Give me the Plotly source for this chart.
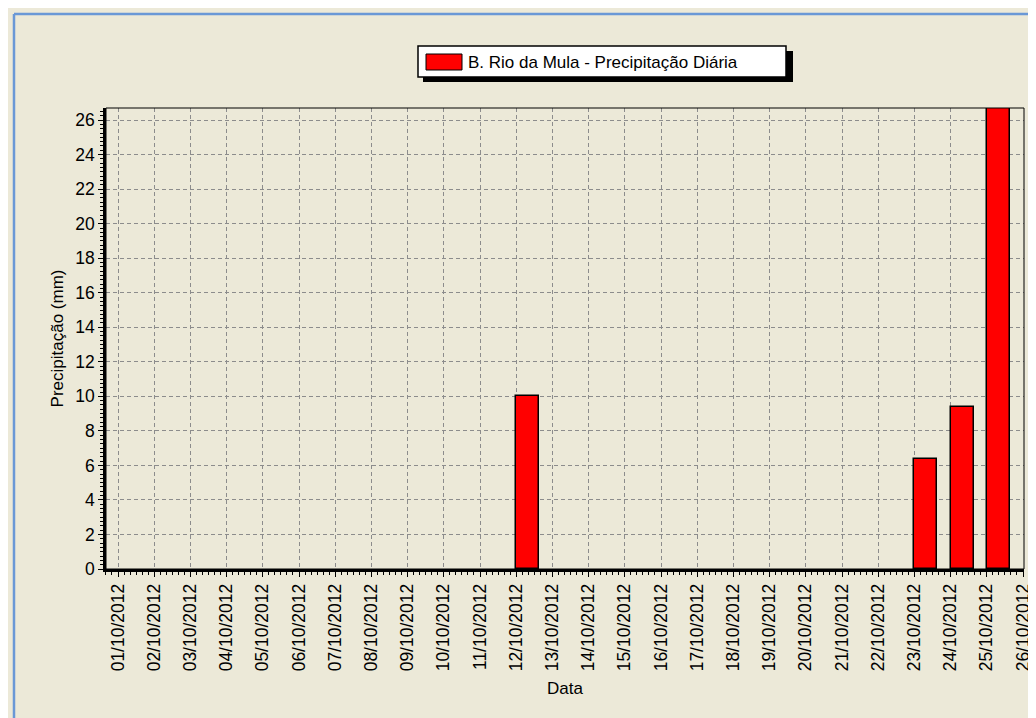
import plotly.graph_objects as go
import pandas as pd

# ---- data ----
dates = pd.date_range("2012-10-01", "2012-10-25", freq="D")
precip = [0, 0, 0, 0, 0, 0, 0, 0, 0, 0, 0, 10.0, 0, 0, 0, 0, 0, 0, 0, 0, 0, 0, 6.4, 9.4, 26.7]
series_name = "B. Rio da Mula - Precipitação Diária"
y_title = "Precipitação (mm)"
x_title = "Data"

# ---- layout geometry (pixels) ----
W, H = 1036, 718
PX0, PX1, PY0, PY1 = 98, 1016, 100, 561
DAY_PX = (1015 - 110) / 25.0
DAY_MS = 86400000
BG = "#ECE9D8"
FONT = "Liberation Sans"


def px(x):
    return (x - PX0) / (PX1 - PX0)


def py(y):
    return (PY1 - y) / (PY1 - PY0)


base = pd.Timestamp("2012-10-01")
x_left = base - pd.Timedelta(days=(110 - PX0) / DAY_PX)
x_right = base + pd.Timedelta(days=25 + (PX1 - 1015) / DAY_PX)

fig = go.Figure()
fig.add_trace(go.Bar(
    x=dates, y=precip, name=series_name,
    width=(23 / DAY_PX) * DAY_MS, offset=0,
    marker=dict(color="#FF0000",
                line=dict(color="black", width=[1.5 if v > 0 else 0 for v in precip])),
    showlegend=False,
))

grid = dict(showgrid=True, gridcolor="#8C8C8C", gridwidth=1, griddash="4px,3px")

fig.update_layout(
    width=W, height=H,
    paper_bgcolor=BG, plot_bgcolor=BG,
    margin=dict(l=PX0, r=W - PX1, t=PY0, b=H - PY1, autoexpand=False),
    font=dict(family=FONT, size=17, color="black"),
    bargap=0,
    xaxis=dict(
        type="date", range=[x_left, x_right],
        tickmode="linear", tick0="2012-10-01", dtick=DAY_MS,
        tickformat="%d/%m/%Y", tickangle=-90,
        ticks="outside", ticklen=5, tickcolor="black", tickwidth=1,
        minor=dict(ticks="outside", ticklen=3, dtick=DAY_MS / 6, tickcolor="black", showgrid=False),
        showline=True, linecolor="black", linewidth=2.5,
        tickfont=dict(size=17.5),
        title=dict(text=x_title, standoff=12, font=dict(size=17)),
        zeroline=False,
        **grid,
    ),
    yaxis=dict(
        range=[0, 26.7], tickmode="linear", tick0=0, dtick=2,
        ticks="outside", ticklen=5, tickcolor="black", tickwidth=1,
        minor=dict(ticks="outside", ticklen=3, dtick=0.25, tickcolor="black", showgrid=False),
        showline=True, linecolor="black", linewidth=2.5,
        tickfont=dict(size=17.5),
        title=dict(text=y_title, standoff=8, font=dict(size=17)),
        zeroline=False,
        **grid,
    ),
)

shapes = [
    # thin border top/right of plot area
    dict(type="rect", xref="paper", yref="paper", x0=0, x1=1, y0=0, y1=1,
         line=dict(color="black", width=1), layer="above"),
    # legend shadow
    dict(type="rect", xref="paper", yref="paper", x0=px(415), x1=px(785), y0=py(74), y1=py(43),
         fillcolor="black", line=dict(width=0), layer="above"),
    # legend box
    dict(type="rect", xref="paper", yref="paper", x0=px(410), x1=px(778), y0=py(69), y1=py(38),
         fillcolor="white", line=dict(color="black", width=1.5), layer="above"),
    # legend swatch
    dict(type="rect", xref="paper", yref="paper", x0=px(418), x1=px(454), y0=py(62), y1=py(46),
         fillcolor="#FF0000", line=dict(color="black", width=1), layer="above"),
    # window frame (blue)
    dict(type="line", xref="paper", yref="paper", x0=px(6), x1=px(6), y0=py(6), y1=py(H),
         line=dict(color="#6A98D6", width=2.5)),
    dict(type="line", xref="paper", yref="paper", x0=px(6), x1=px(W), y0=py(6), y1=py(6),
         line=dict(color="#6A98D6", width=2.5)),
]
fig.update_layout(shapes=shapes)

fig.add_annotation(
    xref="paper", yref="paper", x=px(458), y=py(54), xanchor="left", yanchor="middle",
    text=series_name, showarrow=False, font=dict(size=17, color="black"),
)

fig.write_html("out.html")
